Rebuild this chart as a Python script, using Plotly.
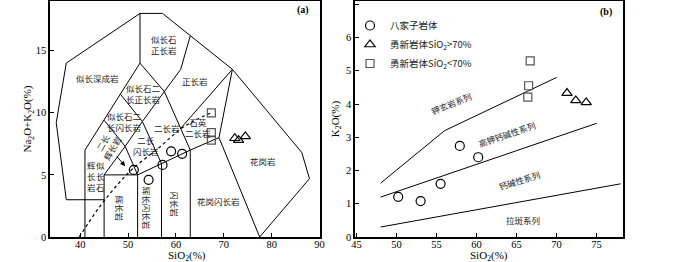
import plotly.graph_objects as go

# ---------------- Left panel (TAS, a) ----------------
outer_x = [37.1, 35.0, 37.1, 52.5, 57.2, 71.8, 86.3, 87.9, 77.5]
outer_y = [3.0, 9.2, 14.0, 18.0, 18.0, 13.5, 6.8, 4.7, 0.0]
seg_bottom_x = [37.1, 45.0]
seg_bottom_y = [3.0, 3.0]
seg_foid_x = [41.0, 41.0, 52.5, 52.5]
seg_foid_y = [0.0, 7.0, 14.0, 18.0]
seg_gabbro_x = [45.0, 45.0, 52.0, 52.0]
seg_gabbro_y = [0.0, 5.0, 5.0, 0.0]
seg_base_x = [52.0, 57.0, 63.0, 69.0]
seg_base_y = [5.0, 5.9, 7.0, 8.0]
seg_v57_x = [57.0, 57.0]
seg_v57_y = [0.0, 5.9]
seg_v63_x = [63.0, 63.0]
seg_v63_y = [0.0, 7.0]
seg_granite_x = [77.5, 69.0, 71.8]
seg_granite_y = [0.0, 8.0, 13.5]
seg_long_x = [45.0, 49.4, 53.0, 57.6, 61.0, 63.0]
seg_long_y = [5.0, 7.3, 9.3, 11.7, 13.5, 16.2]
seg_fmd_x = [45.0, 49.4, 52.0]
seg_fmd_y = [9.4, 7.3, 5.0]
seg_fms_x = [48.4, 53.0, 57.0]
seg_fms_y = [11.5, 9.3, 5.9]
seg_mz_x = [52.5, 57.6, 63.0]
seg_mz_y = [14.0, 11.7, 7.0]
seg_qm_x = [71.8, 61.0]
seg_qm_y = [13.5, 8.75]
irvine_x = [39.8, 44.0, 48.0, 51.0, 56.5, 61.0, 64.0, 67.4]
irvine_y = [0.0, 2.4, 4.3, 5.5, 7.2, 8.7, 9.4, 10.0]

tas_segments = [
    (outer_x, outer_y), (seg_bottom_x, seg_bottom_y), (seg_foid_x, seg_foid_y),
    (seg_gabbro_x, seg_gabbro_y), (seg_base_x, seg_base_y), (seg_v57_x, seg_v57_y),
    (seg_v63_x, seg_v63_y), (seg_granite_x, seg_granite_y), (seg_long_x, seg_long_y),
    (seg_fmd_x, seg_fmd_y), (seg_fms_x, seg_fms_y), (seg_mz_x, seg_mz_y),
    (seg_qm_x, seg_qm_y),
]

# samples on TAS
bjz_sio2_a = [51.2, 54.3, 57.2, 59.0, 61.3]
bjz_alk_a = [5.4, 4.6, 5.8, 6.9, 6.7]
yx_hi_sio2_a = [72.3, 73.1, 74.5]
yx_hi_alk_a = [7.95, 7.8, 8.1]
yx_lo_sio2_a = [67.4, 67.4, 67.4]
yx_lo_alk_a = [10.0, 8.4, 7.8]

# field labels (text, x, y, angle)
tas_labels = [
    ("似长石<br>正长岩", 57.6, 15.5, 0),
    ("似长深成岩", 43.6, 12.8, 0),
    ("正长岩", 64.0, 12.55, 0),
    ("似长石二<br>长正长岩", 53.2, 11.55, 0),
    ("似长石二<br>长闪长岩", 49.2, 9.3, 0),
    ("二长岩", 58.2, 8.8, 0),
    ("石英<br>二长岩", 64.6, 8.8, 0),
    ("二长<br>闪长岩", 53.8, 7.4, 0),
    ("二长<br>辉长岩", 45.6, 7.4, -60),
    ("花岗闪长岩", 69.0, 2.9, 0),
    ("花岗岩", 78.2, 6.1, 0),
    ("辉长岩", 48.3, 2.3, 90),
    ("辉长闪长岩", 53.9, 2.3, 90),
    ("闪长岩", 59.9, 2.6, 90),
    ("辉<br>长<br>岩", 42.4, 4.9, 0),
    ("似<br>长<br>石", 44.2, 4.9, 0),
]

# ---------------- Right panel (K2O, b) ----------------
sho_x = [48.0, 56.0, 70.0]
sho_y = [1.62, 3.2, 4.8]
hk_x = [48.0, 75.0]
hk_y = [1.2, 3.42]
ca_x = [48.0, 78.0]
ca_y = [0.3, 1.6]

bjz_sio2_b = [50.2, 53.0, 55.5, 57.9, 60.2]
bjz_k2o_b = [1.21, 1.08, 1.6, 2.74, 2.4]
yx_hi_sio2_b = [71.3, 72.4, 73.7]
yx_hi_k2o_b = [4.33, 4.11, 4.05]
yx_lo_sio2_b = [66.7, 66.5, 66.4]
yx_lo_k2o_b = [5.3, 4.55, 4.21]

series_labels = [
    ("钾玄岩系列", 56.9, 4.03, -22),
    ("高钾钙碱性系列", 63.8, 3.1, -19),
    ("钙碱性系列", 65.4, 1.72, -17),
    ("拉斑系列", 65.8, 0.52, 0),
]

SERIF = "Liberation Serif, Noto Sans CJK SC"
CJK = "Noto Sans CJK SC, Liberation Serif"

# plot-area geometry in pixels
W, H = 700, 262
ML, MR, MT, MB = 50, 77, 1, 25
PW = W - ML - MR
PH = H - MT - MB

fig = go.Figure()

for sx, sy in tas_segments:
    fig.add_trace(go.Scatter(x=sx, y=sy, mode="lines", line=dict(color="black", width=1),
                             showlegend=False, hoverinfo="skip", xaxis="x", yaxis="y"))
fig.add_trace(go.Scatter(x=irvine_x, y=irvine_y, mode="lines", line=dict(color="black", width=1.2, dash="dot"),
                         line_shape="spline", showlegend=False, hoverinfo="skip", xaxis="x", yaxis="y"))

circ = dict(symbol="circle-open", size=9, color="black", line=dict(width=1.2))
tri = dict(symbol="triangle-up-open", size=9, color="black", line=dict(width=1.2))
sq = dict(symbol="square-open", size=8, color="#555555", line=dict(width=1.2))

fig.add_trace(go.Scatter(x=bjz_sio2_a, y=bjz_alk_a, mode="markers", showlegend=False,
                         marker=circ, xaxis="x", yaxis="y"))
fig.add_trace(go.Scatter(x=yx_hi_sio2_a, y=yx_hi_alk_a, mode="markers", showlegend=False,
                         marker=tri, xaxis="x", yaxis="y"))
fig.add_trace(go.Scatter(x=yx_lo_sio2_a, y=yx_lo_alk_a, mode="markers", showlegend=False,
                         marker=sq, xaxis="x", yaxis="y"))

for lx, ly in [(sho_x, sho_y), (hk_x, hk_y), (ca_x, ca_y)]:
    fig.add_trace(go.Scatter(x=lx, y=ly, mode="lines", line=dict(color="black", width=1),
                             showlegend=False, hoverinfo="skip", xaxis="x2", yaxis="y2"))

fig.add_trace(go.Scatter(x=bjz_sio2_b, y=bjz_k2o_b, mode="markers", name="八家子岩体",
                         marker=circ, xaxis="x2", yaxis="y2"))
fig.add_trace(go.Scatter(x=yx_hi_sio2_b, y=yx_hi_k2o_b, mode="markers", name="勇新岩体SiO<sub>2</sub>&gt;70%",
                         marker=tri, xaxis="x2", yaxis="y2"))
fig.add_trace(go.Scatter(x=yx_lo_sio2_b, y=yx_lo_k2o_b, mode="markers", name="勇新岩体SiO<sub>2</sub>&lt;70%",
                         marker=sq, xaxis="x2", yaxis="y2"))

annotations = []
for t, x, y, a in tas_labels:
    annotations.append(dict(text=t, x=x, y=y, xref="x", yref="y", showarrow=False, textangle=a,
                            font=dict(family=CJK, size=8.5, color="#222"), align="center"))
annotations.append(dict(text="", x=49.4, y=5.7, xref="x", yref="y", ax=47.4, ay=6.6, axref="x", ayref="y",
                        showarrow=True, arrowhead=2, arrowsize=1, arrowwidth=1, arrowcolor="black"))
for t, x, y, a in series_labels:
    annotations.append(dict(text=t, x=x, y=y, xref="x2", yref="y2", showarrow=False, textangle=a,
                            font=dict(family=CJK, size=8.5, color="#222")))
# panel tags and x-axis titles placed by pixel position -> paper fractions
for t, px, py, sz in [("<b>(a)</b>", 303, 10, 10), ("<b>(b)</b>", 606, 12, 10),
                      ("SiO<sub>2</sub>(%)", 187, 256, 11), ("SiO<sub>2</sub>(%)", 489, 256, 11)]:
    annotations.append(dict(text=t, x=(px - ML) / PW, y=1 - (py - MT) / PH,
                            xref="paper", yref="paper", showarrow=False,
                            xanchor="center", yanchor="middle",
                            font=dict(family=SERIF, size=sz, color="black")))

axis_common = dict(showline=True, mirror=True, linecolor="black", linewidth=1.5, ticks="inside",
                   ticklen=4, tickwidth=1, tickcolor="black", showgrid=False, zeroline=False,
                   automargin=False,
                   tickfont=dict(family=SERIF, size=10.5, color="black"),
                   title_font=dict(family=SERIF, size=11, color="black"))

fig.update_layout(
    width=W, height=H, margin=dict(l=ML, r=MR, t=MT, b=MB, autoexpand=False),
    plot_bgcolor="white", paper_bgcolor="white",
    xaxis=dict(domain=[0, 270 / PW], range=[33.7, 90.1], tickvals=[40, 50, 60, 70, 80, 90],
               ticklabelstandoff=-3, anchor="y", **axis_common),
    yaxis=dict(domain=[0, 1], range=[0, 19], tickvals=[0, 5, 10, 15],
               title=dict(text="Na<sub>2</sub>O+K<sub>2</sub>O(%)", standoff=1), anchor="x", **axis_common),
    xaxis2=dict(domain=[305 / PW, 1], range=[44.8, 78.3], tickvals=[45, 50, 55, 60, 65, 70, 75],
                ticklabelstandoff=-3, anchor="y2", **axis_common),
    yaxis2=dict(domain=[0, 1], range=[0, 7.1], tickvals=[0, 1, 2, 3, 4, 5, 6, 7],
                title=dict(text="K<sub>2</sub>O(%)", standoff=4), anchor="x2", **axis_common),
    legend=dict(x=(350 - ML) / PW, y=1 - (11 - MT) / PH, xanchor="left", yanchor="top",
                bgcolor="rgba(0,0,0,0)", font=dict(family=CJK, size=9.5, color="#222"),
                itemwidth=30, tracegroupgap=0),
    annotations=annotations,
)

fig.write_html("out.html", config={"displayModeBar": False},
               post_script="document.body.style.margin='0px';")
